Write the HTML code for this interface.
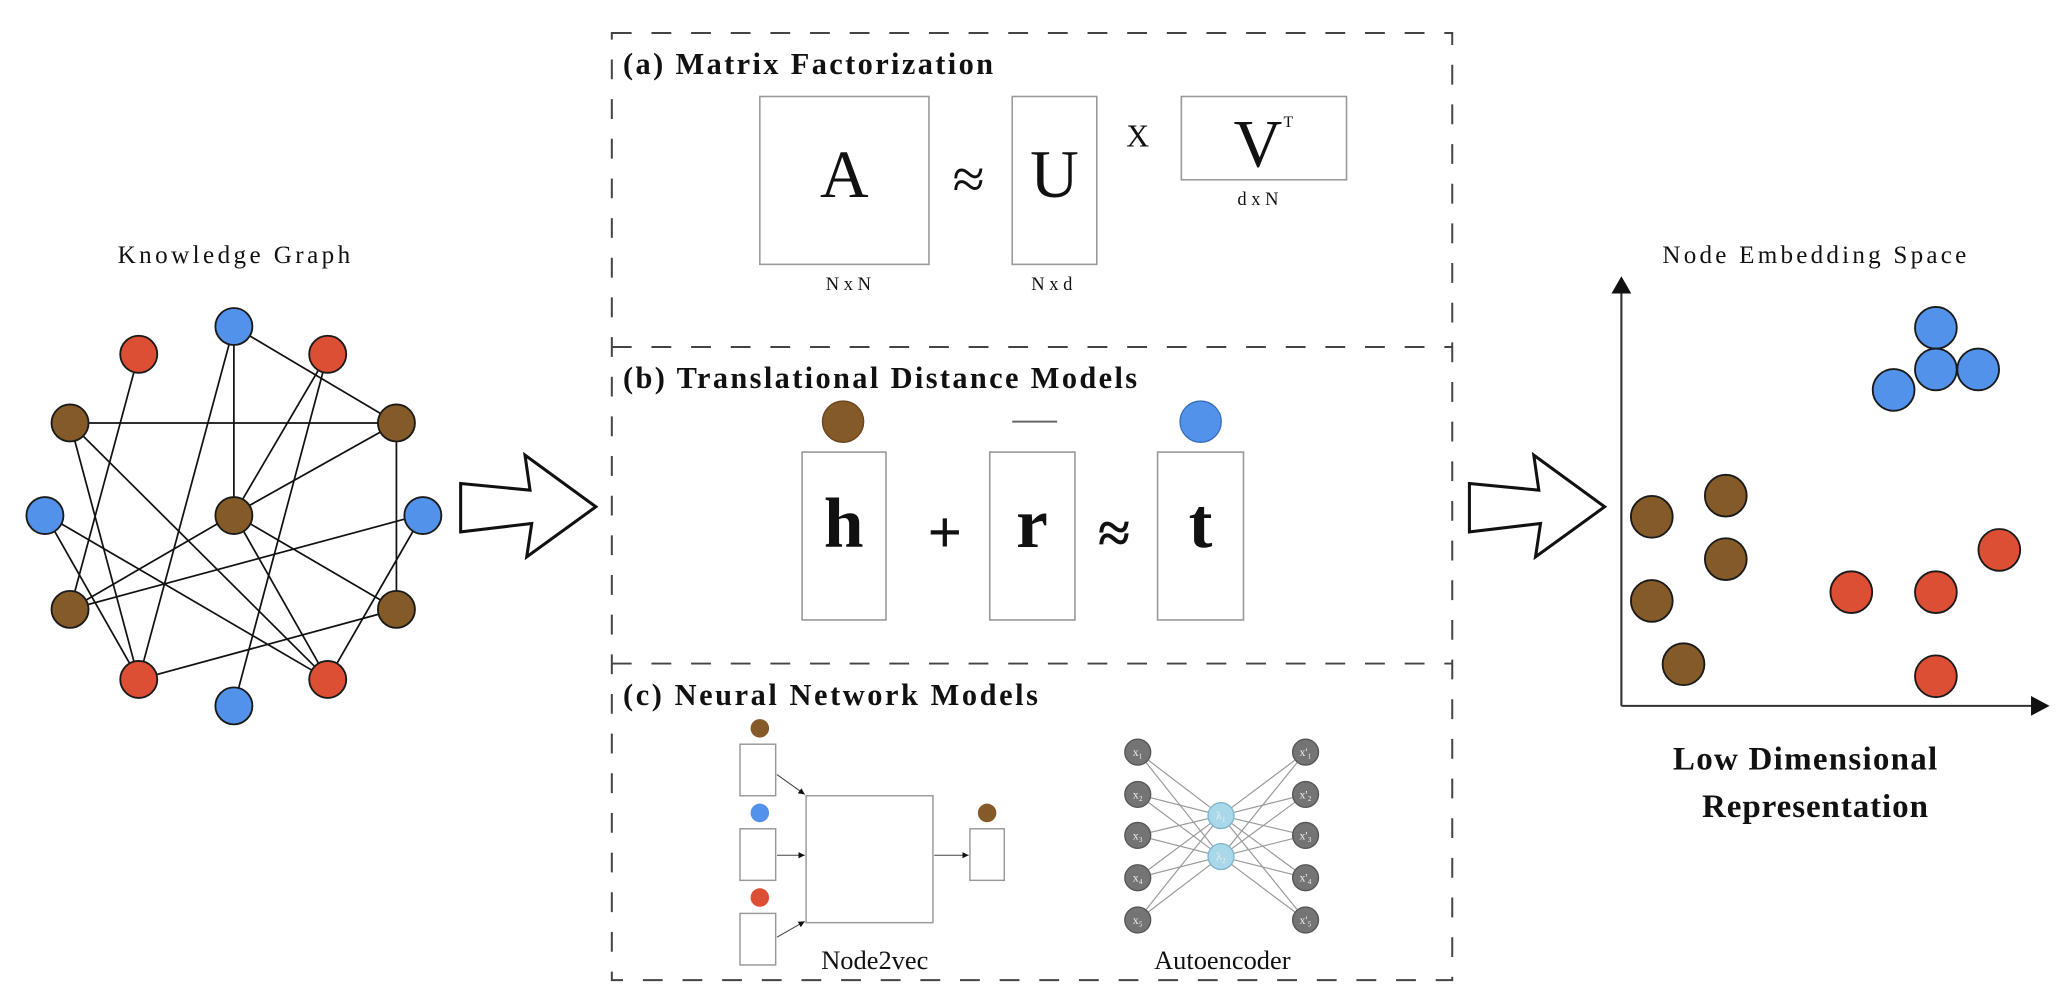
<!DOCTYPE html>
<html><head><meta charset="utf-8"><style>html,body{margin:0;padding:0;background:#fff;}svg{display:block;}</style></head><body>
<svg width="2072" height="998" viewBox="0 0 1568 755" preserveAspectRatio="none" xmlns="http://www.w3.org/2000/svg" font-family="'Liberation Serif', serif">
<defs>
<marker id="ah" viewBox="0 0 10 10" refX="10" refY="5" markerWidth="6" markerHeight="6" orient="auto"><path d="M0,0 L10,5 L0,10 z" fill="#111"/></marker>
<marker id="ah2" viewBox="0 0 10 10" refX="10" refY="5" markerWidth="3.2" markerHeight="3.2" orient="auto"><path d="M0,0 L10,5 L0,10 z" fill="#111"/></marker>
</defs>
<rect width="1568" height="755" fill="#fff"/>

<!-- Knowledge graph -->
<text x="177" y="199" font-size="19" text-anchor="middle" fill="#111" textLength="176">Knowledge Graph</text>
<g stroke="#111" stroke-width="1.3">
<line x1="105" y1="268" x2="53" y2="461"/>
<line x1="177" y1="247" x2="177" y2="389"/>
<line x1="177" y1="247" x2="105" y2="514"/>
<line x1="177" y1="247" x2="300" y2="320"/>
<line x1="248" y1="268" x2="177" y2="389"/>
<line x1="248" y1="268" x2="177" y2="534"/>
<line x1="53" y1="320" x2="300" y2="320"/>
<line x1="53" y1="320" x2="105" y2="514"/>
<line x1="53" y1="320" x2="248" y2="514"/>
<line x1="300" y1="320" x2="177" y2="389"/>
<line x1="300" y1="320" x2="300" y2="461"/>
<line x1="34" y1="389" x2="105" y2="514"/>
<line x1="34" y1="389" x2="248" y2="514"/>
<line x1="177" y1="389" x2="53" y2="461"/>
<line x1="177" y1="389" x2="248" y2="514"/>
<line x1="177" y1="389" x2="300" y2="461"/>
<line x1="320" y1="389" x2="53" y2="461"/>
<line x1="320" y1="389" x2="248" y2="514"/>
<line x1="300" y1="461" x2="105" y2="514"/>
</g>
<g stroke="#1a1a1a" stroke-width="1.4">
<circle cx="105" cy="268" r="14" fill="#dc4f35"/>
<circle cx="177" cy="247" r="14" fill="#5392ea"/>
<circle cx="248" cy="268" r="14" fill="#dc4f35"/>
<circle cx="53" cy="320" r="14" fill="#845a28"/>
<circle cx="300" cy="320" r="14" fill="#845a28"/>
<circle cx="34" cy="390" r="14" fill="#5392ea"/>
<circle cx="177" cy="390" r="14" fill="#845a28"/>
<circle cx="320" cy="390" r="14" fill="#5392ea"/>
<circle cx="53" cy="461" r="14" fill="#845a28"/>
<circle cx="300" cy="461" r="14" fill="#845a28"/>
<circle cx="105" cy="514" r="14" fill="#dc4f35"/>
<circle cx="177" cy="534" r="14" fill="#5392ea"/>
<circle cx="248" cy="514" r="14" fill="#dc4f35"/>
</g>

<!-- Big arrows -->
<path d="M348.6,365.8 L401.1,370.8 L397.3,344.3 L450.9,383.4 L398.6,421.3 L402.4,396 L348.6,402.4 Z" fill="#fff" stroke="#111" stroke-width="2.3" stroke-linejoin="miter"/>
<path d="M348.6,365.8 L401.1,370.8 L397.3,344.3 L450.9,383.4 L398.6,421.3 L402.4,396 L348.6,402.4 Z" transform="translate(763.4,0)" fill="#fff" stroke="#111" stroke-width="2.3"/>

<!-- Dashed panels -->
<g fill="none" stroke="#444" stroke-width="1.5" stroke-dasharray="15,15">
<rect x="463" y="25" width="636" height="716.5"/>
<line x1="463" y1="262.5" x2="1099" y2="262.5"/>
<line x1="463" y1="502" x2="1099" y2="502"/>
</g>

<!-- (a) -->
<text x="471.5" y="56" font-size="23" font-weight="bold" fill="#111" textLength="280">(a) Matrix Factorization</text>
<g fill="none" stroke="#999" stroke-width="1.2">
<rect x="575" y="73" width="128" height="127"/>
<rect x="766" y="73" width="64" height="127"/>
<rect x="894" y="73" width="125" height="63"/>
</g>
<text x="639" y="149" font-size="51" text-anchor="middle" fill="#111">A</text>
<text x="733" y="150" font-size="44" text-anchor="middle" fill="#111">≈</text>
<text x="798" y="149" font-size="51" text-anchor="middle" fill="#111">U</text>
<text x="861" y="111" font-size="24" text-anchor="middle" fill="#111">X</text>
<text x="952" y="126" font-size="51" text-anchor="middle" fill="#111">V</text>
<text x="975" y="96" font-size="12" text-anchor="middle" fill="#111">T</text>
<text x="952" y="155" font-size="14" text-anchor="middle" fill="#111">d x N</text>
<text x="642" y="219.5" font-size="14" text-anchor="middle" fill="#111">N x N</text>
<text x="796" y="219.5" font-size="14" text-anchor="middle" fill="#111">N x d</text>

<!-- (b) -->
<text x="471.5" y="293.6" font-size="23" font-weight="bold" fill="#111" textLength="389">(b) Translational Distance Models</text>
<circle cx="638" cy="319" r="15.6" fill="#845a28" stroke="#6a4520" stroke-width="1"/>
<line x1="766" y1="319" x2="800" y2="319" stroke="#666" stroke-width="1.5"/>
<circle cx="908.6" cy="319" r="15.6" fill="#5392ea" stroke="#3a6fb8" stroke-width="1"/>
<g fill="none" stroke="#999" stroke-width="1.2">
<rect x="607" y="342" width="63.5" height="127"/>
<rect x="749" y="342" width="64.5" height="127"/>
<rect x="876" y="342" width="65" height="127"/>
</g>
<text x="638.5" y="414" font-size="54" font-weight="bold" text-anchor="middle" fill="#111">h</text>
<text x="715" y="418" font-size="46" font-weight="bold" text-anchor="middle" fill="#111">+</text>
<text x="781" y="414" font-size="54" font-weight="bold" text-anchor="middle" fill="#111">r</text>
<text x="843" y="418" font-size="44" font-weight="bold" text-anchor="middle" fill="#111">≈</text>
<text x="908.5" y="414" font-size="54" font-weight="bold" text-anchor="middle" fill="#111">t</text>

<!-- (c) -->
<text x="471.5" y="533.5" font-size="23" font-weight="bold" fill="#111" textLength="314">(c) Neural Network Models</text>
<circle cx="575" cy="551" r="7" fill="#845a28"/>
<circle cx="575" cy="615" r="7" fill="#5392ea"/>
<circle cx="575" cy="679" r="7" fill="#dc4f35"/>
<circle cx="747" cy="615" r="7" fill="#845a28"/>
<g fill="none" stroke="#999" stroke-width="1.1">
<rect x="560" y="563" width="27" height="39"/>
<rect x="560" y="627" width="27" height="39"/>
<rect x="560" y="691" width="27" height="39"/>
<rect x="610" y="602" width="96" height="96"/>
<rect x="734" y="627" width="26" height="39"/>
</g>
<g stroke="#444" stroke-width="0.8">
<line x1="588" y1="586" x2="609" y2="601" marker-end="url(#ah)"/>
<line x1="588" y1="647" x2="609" y2="647" marker-end="url(#ah)"/>
<line x1="588" y1="709" x2="609" y2="697" marker-end="url(#ah)"/>
<line x1="707" y1="647" x2="733" y2="647" marker-end="url(#ah)"/>
</g>
<text x="662" y="733" font-size="20" text-anchor="middle" fill="#111">Node2vec</text>

<!-- Autoencoder -->
<g stroke="#999" stroke-width="0.9">
<line x1="861" y1="569" x2="924" y2="617"/><line x1="861" y1="569" x2="924" y2="648"/>
<line x1="861" y1="601" x2="924" y2="617"/><line x1="861" y1="601" x2="924" y2="648"/>
<line x1="861" y1="632" x2="924" y2="617"/><line x1="861" y1="632" x2="924" y2="648"/>
<line x1="861" y1="664" x2="924" y2="617"/><line x1="861" y1="664" x2="924" y2="648"/>
<line x1="861" y1="696" x2="924" y2="617"/><line x1="861" y1="696" x2="924" y2="648"/>
<line x1="988" y1="569" x2="924" y2="617"/><line x1="988" y1="569" x2="924" y2="648"/>
<line x1="988" y1="601" x2="924" y2="617"/><line x1="988" y1="601" x2="924" y2="648"/>
<line x1="988" y1="632" x2="924" y2="617"/><line x1="988" y1="632" x2="924" y2="648"/>
<line x1="988" y1="664" x2="924" y2="617"/><line x1="988" y1="664" x2="924" y2="648"/>
<line x1="988" y1="696" x2="924" y2="617"/><line x1="988" y1="696" x2="924" y2="648"/>
</g>
<g fill="#747474" stroke="#555" stroke-width="1">
<circle cx="861" cy="569" r="9.8"/><circle cx="861" cy="601" r="9.8"/><circle cx="861" cy="632" r="9.8"/><circle cx="861" cy="664" r="9.8"/><circle cx="861" cy="696" r="9.8"/>
<circle cx="988" cy="569" r="9.8"/><circle cx="988" cy="601" r="9.8"/><circle cx="988" cy="632" r="9.8"/><circle cx="988" cy="664" r="9.8"/><circle cx="988" cy="696" r="9.8"/>
</g>
<g fill="#a9d8ea" stroke="#7fb3c8" stroke-width="1">
<circle cx="924" cy="617" r="9.8"/><circle cx="924" cy="648" r="9.8"/>
</g>
<g font-size="9" fill="#eee" text-anchor="middle">
<text x="861" y="572">x₁</text><text x="861" y="604">x₂</text><text x="861" y="635">x₃</text><text x="861" y="667">x₄</text><text x="861" y="699">x₅</text>
<text x="988" y="572">x'₁</text><text x="988" y="604">x'₂</text><text x="988" y="635">x'₃</text><text x="988" y="667">x'₄</text><text x="988" y="699">x'₅</text>
<text x="924" y="620">λ₁</text><text x="924" y="651">λ₂</text>
</g>
<text x="925" y="733" font-size="20" text-anchor="middle" fill="#111">Autoencoder</text>

<!-- Embedding space -->
<text x="1373" y="199" font-size="19" text-anchor="middle" fill="#111" textLength="230">Node Embedding Space</text>
<g stroke="#333" stroke-width="1.6">
<line x1="1227" y1="534" x2="1227" y2="220"/>
<line x1="1227" y1="534" x2="1540" y2="534"/>
</g>
<path d="M1227,209 L1219.5,222 L1234.5,222 Z" fill="#111"/>
<path d="M1551,534 L1537,526.5 L1537,541.5 Z" fill="#111"/>
<g stroke="#1a1a1a" stroke-width="1.4">
<circle cx="1465" cy="248" r="15.8" fill="#5392ea"/>
<circle cx="1465" cy="279.5" r="15.8" fill="#5392ea"/>
<circle cx="1497" cy="279.5" r="15.8" fill="#5392ea"/>
<circle cx="1433" cy="295" r="15.8" fill="#5392ea"/>
<circle cx="1250" cy="391" r="15.8" fill="#845a28"/>
<circle cx="1306" cy="375" r="15.8" fill="#845a28"/>
<circle cx="1306" cy="423" r="15.8" fill="#845a28"/>
<circle cx="1250" cy="454.6" r="15.8" fill="#845a28"/>
<circle cx="1274" cy="502.5" r="15.8" fill="#845a28"/>
<circle cx="1401" cy="448" r="15.8" fill="#dc4f35"/>
<circle cx="1465" cy="448" r="15.8" fill="#dc4f35"/>
<circle cx="1513" cy="416" r="15.8" fill="#dc4f35"/>
<circle cx="1465" cy="511.6" r="15.8" fill="#dc4f35"/>
</g>
<text x="1366" y="582" font-size="25" font-weight="bold" text-anchor="middle" fill="#111" textLength="200">Low Dimensional</text>
<text x="1373.5" y="618" font-size="25" font-weight="bold" text-anchor="middle" fill="#111" textLength="171">Representation</text>
</svg>
</body></html>
